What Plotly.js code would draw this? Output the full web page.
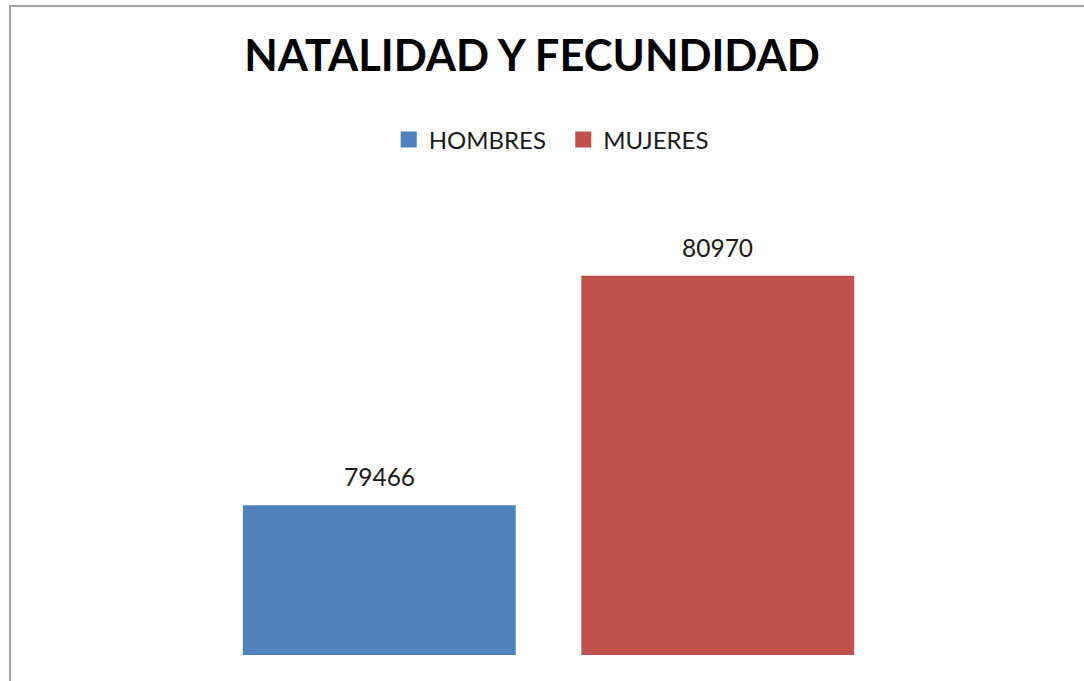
<!DOCTYPE html>
<html>
<head>
<meta charset="utf-8">
<script src="https://cdn.plot.ly/plotly-3.0.1.min.js"></script>
<style>
  html, body { margin: 0; padding: 0; overflow: hidden; background: #fff; }
  #chart { width: 1084px; height: 681px; }
  #frame { position: absolute; left: 9px; top: 5px; width: 2000px; height: 2000px;
           border-left: 2px solid #a6a6a6; border-top: 2px solid #a6a6a6; pointer-events: none; }
</style>
</head>
<body>
<div id="chart"></div>
<div id="frame"></div>
<script>
// Data
const seriesNames = ["HOMBRES", "MUJERES"];
const seriesValues = [79466, 80970];
const seriesColors = ["#4F81BD", "#C0504D"];
const chartTitle = "NATALIDAD Y FECUNDIDAD";

const FONT = "Lato, 'Open Sans', sans-serif";

const traces = [];
// bars
seriesNames.forEach((name, i) => {
  traces.push({
    type: "bar",
    x: [name],
    y: [seriesValues[i]],
    name: name,
    marker: { color: seriesColors[i] },
    showlegend: false,
    hoverinfo: "y"
  });
});
// legend entries
seriesNames.forEach((name, i) => {
  traces.push({
    type: "scatter",
    mode: "markers",
    x: [null],
    y: [null],
    name: i < seriesNames.length - 1 ? name + "\u00a0\u00a0" : name,
    marker: { symbol: "square", size: 17, color: seriesColors[i] },
    showlegend: true
  });
});

const annotations = seriesNames.map((name, i) => ({
  xref: "x", yref: "y",
  x: name, y: seriesValues[i],
  text: String(seriesValues[i]),
  showarrow: false,
  xanchor: "center", yanchor: "bottom",
  yshift: 12,
  font: { family: FONT, size: 24.5, color: "#1a1a1a" }
}));

const layout = {
  width: 1084, height: 681,
  paper_bgcolor: "#ffffff", plot_bgcolor: "#ffffff",
  margin: { l: 210.4, r: 196.6, t: 195.1, b: 25.5 },
  title: {
    text: "<b>" + chartTitle + "</b>",
    font: { family: FONT, size: 43.5, color: "#000000" },
    x: 0.4908, xref: "container", xanchor: "center",
    y: 0.9178, yref: "container", yanchor: "middle"
  },
  barmode: "overlay",
  bargap: 0.194,
  xaxis: { type: "category", range: [-0.5, 1.5], showticklabels: false, showgrid: false,
           zeroline: false, showline: false, ticks: "" },
  yaxis: { range: [78485, 81500], showticklabels: false, showgrid: false,
           zeroline: false, showline: false, ticks: "" },
  legend: {
    orientation: "h",
    xref: "container", yref: "container",
    x: 0.5085, xanchor: "center",
    y: 0.7944, yanchor: "middle",
    font: { family: FONT, size: 24, color: "#1a1a1a" },
    itemwidth: 30,
    tracegroupgap: 0
  },
  annotations: annotations,
  showlegend: true
};

Plotly.newPlot("chart", traces, layout, { displayModeBar: false, staticPlot: true });
</script>
</body>
</html>
